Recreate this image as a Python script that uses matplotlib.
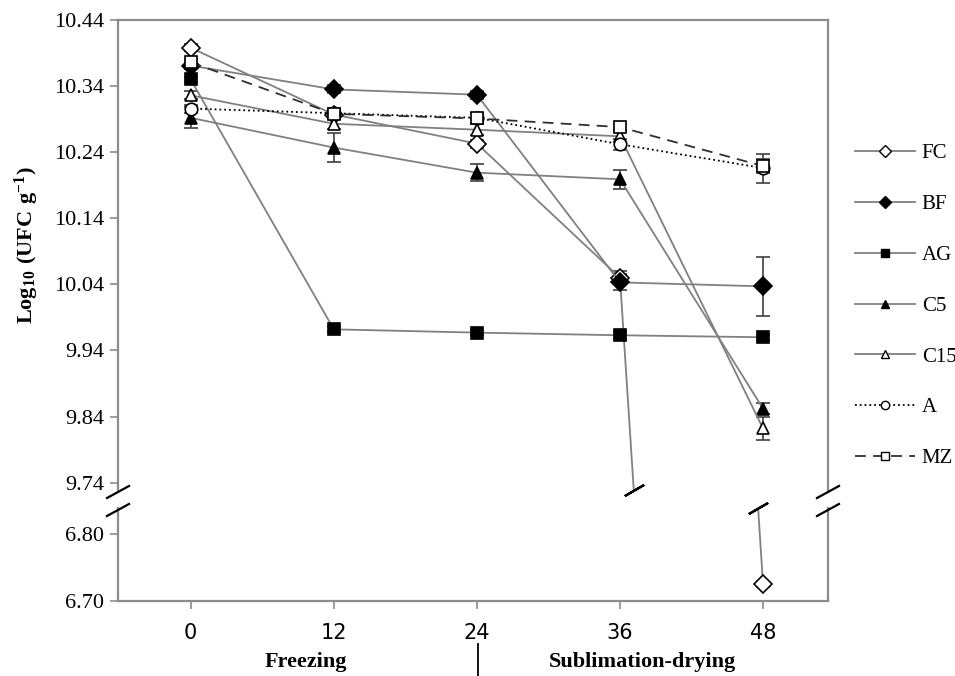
import numpy as np
import matplotlib
matplotlib.use('Agg')
import matplotlib.pyplot as plt
from matplotlib.lines import Line2D

plt.rcParams['font.family'] = ['Liberation Serif', 'DejaVu Serif']
plt.rcParams['mathtext.fontset'] = 'custom'
plt.rcParams['mathtext.rm'] = 'Liberation Serif'
plt.rcParams['mathtext.bf'] = 'Liberation Serif:bold'

# time (h)
hours = [0, 12, 24, 36, 48]

# Log10 (UFC g-1) per treatment
fc = [10.398, 10.297, 10.253, 10.050, 6.725]
bf = [10.371, 10.335, 10.327, 10.043, 10.037]
ag = [10.350, 9.972, 9.967, 9.963, 9.960]
c5 = [10.292, 10.247, 10.209, 10.199, 9.852]
c15 = [10.326, 10.283, 10.274, 10.264, 9.822]
a = [10.306, 10.299, 10.292, 10.252, 10.216]
mz = [10.376, 10.298, 10.291, 10.278, 10.219]

fc_err = [0.005, 0.006, 0.006, 0.010, 0.004]
bf_err = [0.005, 0.006, 0.006, 0.012, 0.045]
ag_err = [0.004, 0.004, 0.004, 0.005, 0.004]
c5_err = [0.016, 0.022, 0.013, 0.014, 0.008]
c15_err = [0.006, 0.008, 0.008, 0.008, 0.018]
a_err = [0.006, 0.008, 0.008, 0.008, 0.022]
mz_err = [0.005, 0.008, 0.008, 0.005, 0.010]

names = ['FC', 'BF', 'AG', 'C5', 'C15', 'A', 'MZ']
upper_ticks = [9.74, 9.84, 9.94, 10.04, 10.14, 10.24, 10.34, 10.44]
lower_ticks = [6.70, 6.80]

series = [fc, bf, ag, c5, c15, a, mz]
errors = [fc_err, bf_err, ag_err, c5_err, c15_err, a_err, mz_err]
styles = [
    dict(marker='D', mfc='white', ls='-', color='#808080', ms=9.5),
    dict(marker='D', mfc='black', ls='-', color='#808080', ms=9.5),
    dict(marker='s', mfc='black', ls='-', color='#808080', ms=8.5),
    dict(marker='^', mfc='black', ls='-', color='#808080', ms=9),
    dict(marker='^', mfc='white', ls='-', color='#808080', ms=9),
    dict(marker='o', mfc='white', ls=':', color='black', ms=9),
    dict(marker='s', mfc='white', ls=(0, (6, 4)), color='#303030', ms=9),
]

W, H = 955, 676
fig = plt.figure(figsize=(W / 100, H / 100), dpi=100)

def px_axes(left, top, right, bottom):
    return fig.add_axes([left / W, 1 - bottom / H, (right - left) / W, (bottom - top) / H])

ax = px_axes(118, 20, 828, 490)
ax2 = px_axes(118, 508, 828, 601)

for axis in (ax, ax2):
    for s, e, st, nm in zip(series, errors, styles, names):
        axis.errorbar(hours, s, yerr=e, marker=st['marker'], mfc=st['mfc'], mec='black',
                      mew=1.2, ms=st['ms'], ls=st['ls'], color=st['color'], lw=1.3,
                      ecolor='#404040', elinewidth=1.2, capsize=5, capthick=1.2,
                      label=nm, zorder=3)
    axis.set_xlim(-6.1, 53.45)
    for sp in axis.spines.values():
        sp.set_color('#8c8c8c')
        sp.set_linewidth(1.6)
    axis.tick_params(axis='y', direction='out', length=6, width=1.2, color='#8c8c8c',
                     labelsize=16, pad=4)

ax.set_ylim(9.7289, 10.44)
ax.set_yticks(upper_ticks)
ax.set_yticklabels(['%.2f' % t for t in upper_ticks])
ax.spines['bottom'].set_visible(False)
ax.set_xticks([])

ax2.set_ylim(6.70, 6.8388)
ax2.set_yticks(lower_ticks)
ax2.set_yticklabels(['%.2f' % t for t in lower_ticks])
ax2.spines['top'].set_visible(False)
ax2.set_xticks(hours)
ax2.set_xticklabels([str(h) for h in hours], family=['Liberation Sans Narrow', 'DejaVu Sans'],
                    fontsize=15)
ax2.tick_params(axis='x', direction='out', length=6, width=1.2, color='#8c8c8c', pad=10)

ax.set_ylabel(r'$\mathbf{Log_{10}\ (UFC\ g^{-1})}$', fontsize=16)
ax.yaxis.set_label_coords(-0.108, 0.52)

# axis break marks
def brk(xp, yp, dx=11, dy=6):
    fig.add_artist(Line2D([(xp - dx) / W, (xp + dx) / W], [1 - (yp + dy) / H, 1 - (yp - dy) / H],
                          color='black', lw=1.6))

for xp in (118, 828):
    brk(xp, 492)
    brk(xp, 510)

# break marks on the FC line where it leaves the upper panel and enters the lower one
y_lo = ax.get_ylim()[0]
y_hi = ax2.get_ylim()[1]
x_up = hours[3] + (hours[4] - hours[3]) * (fc[3] - y_lo) / (fc[3] - fc[4])
x_dn = hours[3] + (hours[4] - hours[3]) * (fc[3] - y_hi) / (fc[3] - fc[4])
ax.plot([x_up], [y_lo], marker=(2, 2, -60), ms=16, mew=1.6, color='black', clip_on=False, zorder=4)
ax2.plot([x_dn], [y_hi], marker=(2, 2, -60), ms=16, mew=1.6, color='black', clip_on=False, zorder=4)

# legend
handles = []
for st, nm in zip(styles, names):
    handles.append(Line2D([], [], marker=st['marker'], mfc=st['mfc'], mec='black', mew=1.0,
                          ms=6, ls=st['ls'], color=st['color'], lw=1.3, label=nm))
fig.legend(handles=handles, loc='center left', bbox_to_anchor=(855 / W, 1 - 306 / H),
           frameon=False, fontsize=15, handlelength=2.9, handletextpad=0.3,
           labelspacing=1.5, borderpad=0, borderaxespad=0)

# phase labels
fig.text(306 / W, 1 - 662 / H, 'Freezing', ha='center', va='center', fontsize=16, fontweight='bold')
fig.text(642 / W, 1 - 662 / H, 'Sublimation-drying', ha='center', va='center', fontsize=16,
         fontweight='bold')
fig.add_artist(Line2D([478 / W, 478 / W], [0, 1 - 644 / H], color='black', lw=1.3))

fig.savefig('out.png', dpi=100)
